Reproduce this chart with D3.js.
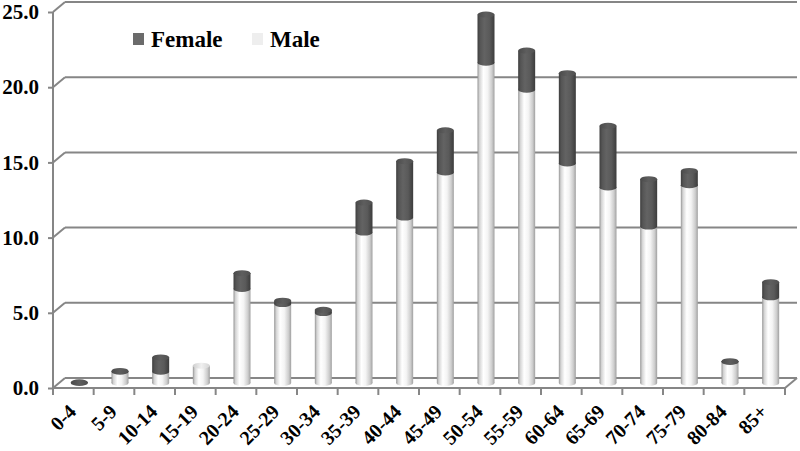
<!DOCTYPE html>
<html><head><meta charset="utf-8">
<script src="https://cdn.jsdelivr.net/npm/d3@7/dist/d3.min.js"></script>
<style>html,body{margin:0;padding:0;background:#fff;}svg{display:block;}</style>
</head><body>
<svg id="chart" width="800" height="451"></svg>
<script>
const categories = ["0-4","5-9","10-14","15-19","20-24","25-29","30-34","35-39","40-44","45-49","50-54","55-59","60-64","65-69","70-74","75-79","80-84","85+"];
const male   = [0, 0.75, 0.75, 1.15, 6.25, 5.25, 4.65, 10.0, 11.0, 14.0, 21.3, 19.5, 14.6, 13.0, 10.4, 13.15, 1.4, 5.7];
const female = [0.05, 0.05, 0.95, 0, 1.05, 0.22, 0.22, 2.0, 3.75, 2.8, 3.2, 2.6, 6.0, 4.1, 3.15, 0.95, 0.05, 1.0];
const yTicks = [0, 5, 10, 15, 20, 25];
const seriesNames = ["Female", "Male"];

const svg = d3.select("#chart");
const pLeft = 53, pRight = 785, pBottom = 388, pTop = 12;
const DX = 12, DY = -10;          // depth offset of back wall
const x = d3.scaleBand().domain(categories).range([pLeft, pRight]).padding(0);
const y = d3.scaleLinear().domain([0, 25]).range([pBottom, pTop]);
const grid = "#868686";
const font = "'Liberation Serif','Times New Roman',serif";

// gradients
const defs = svg.append("defs");
function grad(id, stops) {
  const g = defs.append("linearGradient").attr("id", id).attr("x1", "0").attr("x2", "1").attr("y1", "0").attr("y2", "0");
  stops.forEach(s => g.append("stop").attr("offset", s[0]).attr("stop-color", s[1]));
}
grad("gMale", [[0, "#959595"], [0.12, "#d4d4d4"], [0.35, "#ffffff"], [0.6, "#f4f4f4"], [0.85, "#cdcdcd"], [1, "#a0a0a0"]]);
grad("gFemale", [[0, "#3e3e3e"], [0.15, "#555555"], [0.4, "#636363"], [0.7, "#5a5a5a"], [1, "#3c3c3c"]]);
grad("gMaleTop", [[0, "#cfcfcf"], [0.5, "#f0f0f0"], [1, "#d5d5d5"]]);
grad("gFemaleTop", [[0, "#4a4a4a"], [0.5, "#5e5e5e"], [1, "#505050"]]);

// back wall gridlines + left wall diagonals
const gGrid = svg.append("g").attr("stroke", grid).attr("stroke-width", 2).attr("fill", "none");
gGrid.selectAll("line.back").data(yTicks).join("line").attr("class", "back")
  .attr("x1", pLeft + DX).attr("x2", pRight + DX)
  .attr("y1", d => y(d) + DY).attr("y2", d => y(d) + DY);
gGrid.selectAll("line.diag").data(yTicks).join("line").attr("class", "diag")
  .attr("x1", pLeft).attr("x2", pLeft + DX)
  .attr("y1", d => y(d)).attr("y2", d => y(d) + DY);
// floor right edge
gGrid.append("line").attr("x1", pRight).attr("y1", y(0)).attr("x2", pRight + DX).attr("y2", y(0) + DY);

// bars (cylinders)
const bw = 17, ry = 3;
const gBars = svg.append("g");
categories.forEach((c, i) => {
  const cx = x(c) + x.bandwidth() / 2 + DX / 2;
  const yb = v => y(v) + DY / 2;
  const m = male[i], f = female[i], t = m + f;
  const g = gBars.append("g");
  if (m > 0) {
    g.append("ellipse").attr("cx", cx).attr("cy", yb(0)).attr("rx", bw / 2).attr("ry", ry).attr("fill", "url(#gMale)");
    g.append("rect").attr("x", cx - bw / 2).attr("width", bw).attr("y", yb(m)).attr("height", yb(0) - yb(m)).attr("fill", "url(#gMale)");
    if (f <= 0) g.append("ellipse").attr("cx", cx).attr("cy", yb(m)).attr("rx", bw / 2).attr("ry", ry).attr("fill", "url(#gMaleTop)");
  }
  if (f > 0) {
    g.append("ellipse").attr("cx", cx).attr("cy", yb(m)).attr("rx", bw / 2).attr("ry", ry).attr("fill", "url(#gFemale)");
    g.append("rect").attr("x", cx - bw / 2).attr("width", bw).attr("y", yb(t)).attr("height", yb(m) - yb(t)).attr("fill", "url(#gFemale)");
    g.append("ellipse").attr("cx", cx).attr("cy", yb(t)).attr("rx", bw / 2).attr("ry", ry).attr("fill", "url(#gFemaleTop)");
  }
});

// floor front line + category ticks
const gAx = svg.append("g").attr("stroke", grid).attr("stroke-width", 2);
gAx.append("line").attr("x1", pLeft).attr("x2", pRight).attr("y1", y(0)).attr("y2", y(0));
const bounds = categories.map(c => x(c)).concat([pRight]);
gAx.selectAll("line.tk").data(bounds).join("line").attr("class", "tk")
  .attr("x1", d => d).attr("x2", d => d).attr("y1", y(0)).attr("y2", y(0) + 7);

// y axis
const yAxis = svg.append("g").attr("transform", `translate(${pLeft},0)`)
  .call(d3.axisLeft(y).tickValues(yTicks).tickFormat(d3.format(".1f")).tickSize(5).tickPadding(9));
yAxis.select(".domain").attr("stroke", grid).attr("stroke-width", 2).attr("d", `M0,${y(25)}V${y(0)}`);
yAxis.selectAll(".tick line").attr("stroke", grid).attr("stroke-width", 2);
yAxis.selectAll(".tick text").attr("font-family", font).attr("font-weight", "bold").attr("font-size", 21).attr("fill", "#000");

// x labels
svg.append("g").selectAll("text").data(categories).join("text")
  .attr("transform", d => `translate(${x(d) + x.bandwidth() / 2 + 4},${y(0) + 25}) rotate(-45)`)
  .attr("text-anchor", "end")
  .attr("font-family", font).attr("font-weight", "bold").attr("font-size", 20).attr("fill", "#000")
  .text(d => d);

// legend
const legendColors = ["#6b6b6b", "#eeeeee"];
const legendX = [133, 252];
const lg = svg.append("g");
seriesNames.forEach((s, i) => {
  lg.append("rect").attr("x", legendX[i]).attr("y", 33).attr("width", 11).attr("height", 12).attr("fill", legendColors[i]);
  lg.append("text").attr("x", legendX[i] + 18).attr("y", 47)
    .attr("font-family", font).attr("font-weight", "bold").attr("font-size", 23).attr("fill", "#000").text(s);
});
</script>
</body></html>
